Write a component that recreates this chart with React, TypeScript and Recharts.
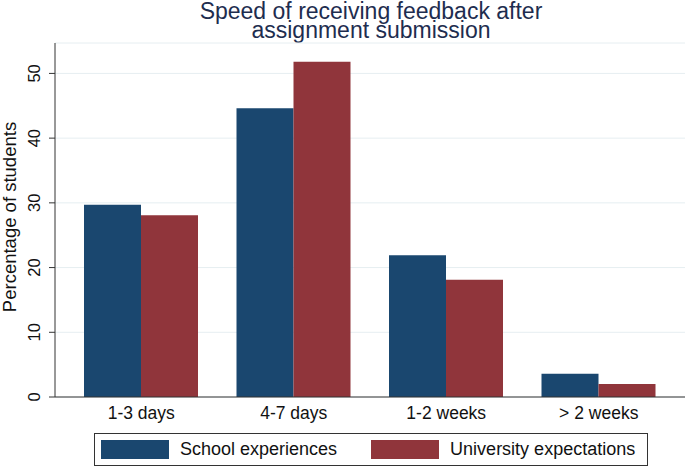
import { BarChart, Bar, XAxis, YAxis, CartesianGrid, Legend } from "recharts";

const categories = ["1-3 days", "4-7 days", "1-2 weeks", "> 2 weeks"];
const schoolExperiences = [29.7, 44.6, 21.9, 3.6];
const universityExpectations = [28.1, 51.8, 18.1, 2.0];
const yTicks = [0, 10, 20, 30, 40, 50];
const titleLines = ["Speed of receiving feedback after", "assignment submission"];

const FONT = "'Liberation Sans', Arial, sans-serif";
const NAVY = "#1a476f";
const MAROON = "#90353b";

const data = categories.map((name, i) => ({
  name,
  school: schoolExperiences[i],
  university: universityExpectations[i],
}));

// y tick labels are turned on their side, like Stata does
function YTick(props: any) {
  const { x, y, payload } = props;
  return (
    <text
      x={x}
      y={y}
      transform={`rotate(-90 ${x} ${y})`}
      textAnchor="middle"
      fontSize={16.5}
      fontFamily={FONT}
      fill="#111"
    >
      {payload.value}
    </text>
  );
}

function LegendBox(props: any) {
  const items = props.payload || [];
  return (
    <div
      style={{
        boxSizing: "border-box",
        width: 554,
        height: 33,
        border: "1px solid #333",
        display: "flex",
        alignItems: "center",
        paddingLeft: 6,
        gap: 34,
        fontFamily: FONT,
        fontSize: 18,
        color: "#111",
        background: "#fff",
      }}
    >
      {items.map((it: any) => (
        <div key={it.value} style={{ display: "flex", alignItems: "center" }}>
          <span style={{ width: 68, height: 19, background: it.color, marginRight: 11 }} />
          <span>{it.value}</span>
        </div>
      ))}
    </div>
  );
}

export default function App() {
  return (
    <div style={{ position: "absolute", left: 0, top: 0, width: 685, height: 467, background: "#fff" }}>
      <svg
        width={685}
        height={45}
        style={{ position: "absolute", left: 0, top: 0, pointerEvents: "none" }}
      >
        {titleLines.map((t, i) => (
          <text
            key={t}
            x={371}
            y={19 + i * 19}
            textAnchor="middle"
            fontSize={23}
            fontFamily={FONT}
            fill="#1e2d4f"
          >
            {t}
          </text>
        ))}
      </svg>
      <BarChart
        width={685}
        height={467}
        data={data}
        margin={{ top: 43, right: 0, left: 0, bottom: 0 }}
        barGap={0}
        barSize={57}
      >
        <CartesianGrid vertical={false} stroke="#e6eef1" strokeWidth={1} />
        <XAxis
          dataKey="name"
          height={70}
          padding={{ left: 10, right: 10 }}
          tickLine={false}
          tickSize={0}
          tickMargin={10}
          axisLine={{ stroke: "#333" }}
          tick={{ fontSize: 17.5, fontFamily: FONT, fill: "#111" }}
        />
        <YAxis
          width={55}
          domain={[0, 54.7]}
          ticks={yTicks}
          interval={0}
          tickSize={6}
          tickMargin={9}
          axisLine={{ stroke: "#333" }}
          tickLine={{ stroke: "#333" }}
          tick={<YTick />}
          label={{
            content: (p: any) => {
              const vb = p.viewBox || {};
              const cy = vb.y + vb.height / 2 - 3;
              return (
                <text
                  x={16}
                  y={cy}
                  transform={`rotate(-90 16 ${cy})`}
                  textAnchor="middle"
                  fontSize={18.5}
                  fontFamily={FONT}
                  fill="#111"
                >
                  Percentage of students
                </text>
              );
            },
          }}
        />
        <Legend
          verticalAlign="middle"
          layout="horizontal"
          content={<LegendBox />}
          wrapperStyle={{ left: 94, top: 433, width: 554, height: 33 }}
        />
        <Bar dataKey="school" name="School experiences" fill={NAVY} isAnimationActive={false} />
        <Bar dataKey="university" name="University expectations" fill={MAROON} isAnimationActive={false} />
      </BarChart>
    </div>
  );
}
